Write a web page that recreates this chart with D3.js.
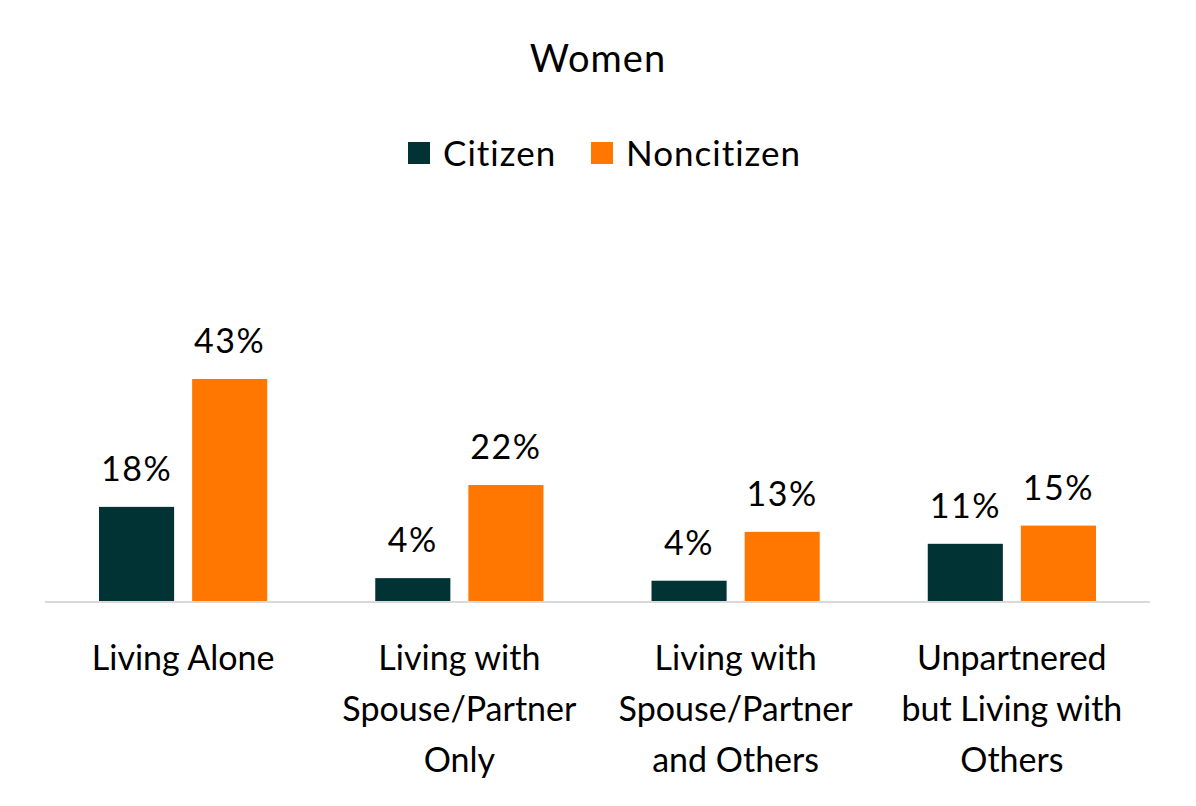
<!DOCTYPE html>
<html>
<head>
<meta charset="utf-8">
<script src="https://cdn.jsdelivr.net/npm/d3@7"></script>
<style>
  body { margin: 0; background: #fff; }
  svg text { font-family: Lato, "Open Sans", sans-serif; fill: #000; }
</style>
</head>
<body>
<svg id="chart"></svg>
<script>
// data
const categories = [
    ['Living Alone'],
    ['Living with', 'Spouse/Partner', 'Only'],
    ['Living with', 'Spouse/Partner', 'and Others'],
    ['Unpartnered', 'but Living with', 'Others']
];
const seriesNames = ['Citizen', 'Noncitizen'];
const citizen = [18.1, 4.4, 3.9, 11.0];
const noncitizen = [42.7, 22.3, 13.3, 14.5];
const labelsCitizen = ['18%', '4%', '4%', '11%'];
const labelsNoncitizen = ['43%', '22%', '13%', '15%'];
const colors = ['#013334', '#ff7700'];

const width = 1196, height = 806;
const margin = { left: 45, right: 46, top: 0, bottom: 205 };

const svg = d3.select('#chart')
    .attr('width', width)
    .attr('height', height);

const x0 = d3.scaleBand()
    .domain(d3.range(categories.length))
    .range([margin.left, width - margin.right])
    .paddingInner(0)
    .paddingOuter(0);

const x1 = d3.scaleBand()
    .domain([0, 1])
    .range([0, x0.bandwidth()])
    .paddingInner(0.1935)
    .paddingOuter(0.58);

const baseline = height - margin.bottom;
const y = d3.scaleLinear()
    .domain([0, 50])
    .range([baseline, baseline - 260]);

// title
svg.append('text')
    .attr('x', 598)
    .attr('y', 72)
    .attr('text-anchor', 'middle')
    .attr('font-size', 38)
    .attr('letter-spacing', 1)
    .text('Women');

// legend
const legend = svg.append('g');
const legendItems = [
    { name: seriesNames[0], color: colors[0], x: 408 },
    { name: seriesNames[1], color: colors[1], x: 591 }
];
legendItems.forEach(item => {
    legend.append('rect')
        .attr('x', item.x)
        .attr('y', 142)
        .attr('width', 22)
        .attr('height', 22)
        .attr('fill', item.color);
    legend.append('text')
        .attr('x', item.x + 35)
        .attr('y', 166)
        .attr('font-size', 35)
        .attr('letter-spacing', 1)
        .text(item.name);
});

// bars
const rows = categories.map((c, i) => ({
    i,
    values: [
        { s: 0, v: citizen[i], label: labelsCitizen[i] },
        { s: 1, v: noncitizen[i], label: labelsNoncitizen[i] }
    ]
}));

const groups = svg.selectAll('.group')
    .data(rows)
    .enter()
    .append('g')
    .attr('class', 'group')
    .attr('transform', d => `translate(${x0(d.i)},0)`);

groups.selectAll('rect')
    .data(d => d.values)
    .enter()
    .append('rect')
    .attr('x', d => x1(d.s))
    .attr('width', x1.bandwidth())
    .attr('y', d => y(d.v))
    .attr('height', d => baseline - y(d.v))
    .attr('fill', d => colors[d.s]);

groups.selectAll('.val')
    .data(d => d.values)
    .enter()
    .append('text')
    .attr('class', 'val')
    .attr('x', d => x1(d.s) + x1.bandwidth() / 2)
    .attr('y', d => y(d.v) - 26)
    .attr('text-anchor', 'middle')
    .attr('font-size', 34)
    .attr('letter-spacing', 1.5)
    .text(d => d.label);

// axis line
svg.append('line')
    .attr('x1', margin.left)
    .attr('x2', width - margin.right)
    .attr('y1', baseline + 1)
    .attr('y2', baseline + 1)
    .attr('stroke', '#d9d9d9')
    .attr('stroke-width', 2);

// category labels
const catLabels = svg.selectAll('.cat')
    .data(categories)
    .enter()
    .append('text')
    .attr('class', 'cat')
    .attr('text-anchor', 'middle')
    .attr('font-size', 34);

catLabels.selectAll('tspan')
    .data((d, i) => d.map(line => ({ line, i })))
    .enter()
    .append('tspan')
    .attr('x', d => x0(d.i) + x0.bandwidth() / 2)
    .attr('y', (d, j) => 670 + j * 51)
    .text(d => d.line);
</script>
</body>
</html>
